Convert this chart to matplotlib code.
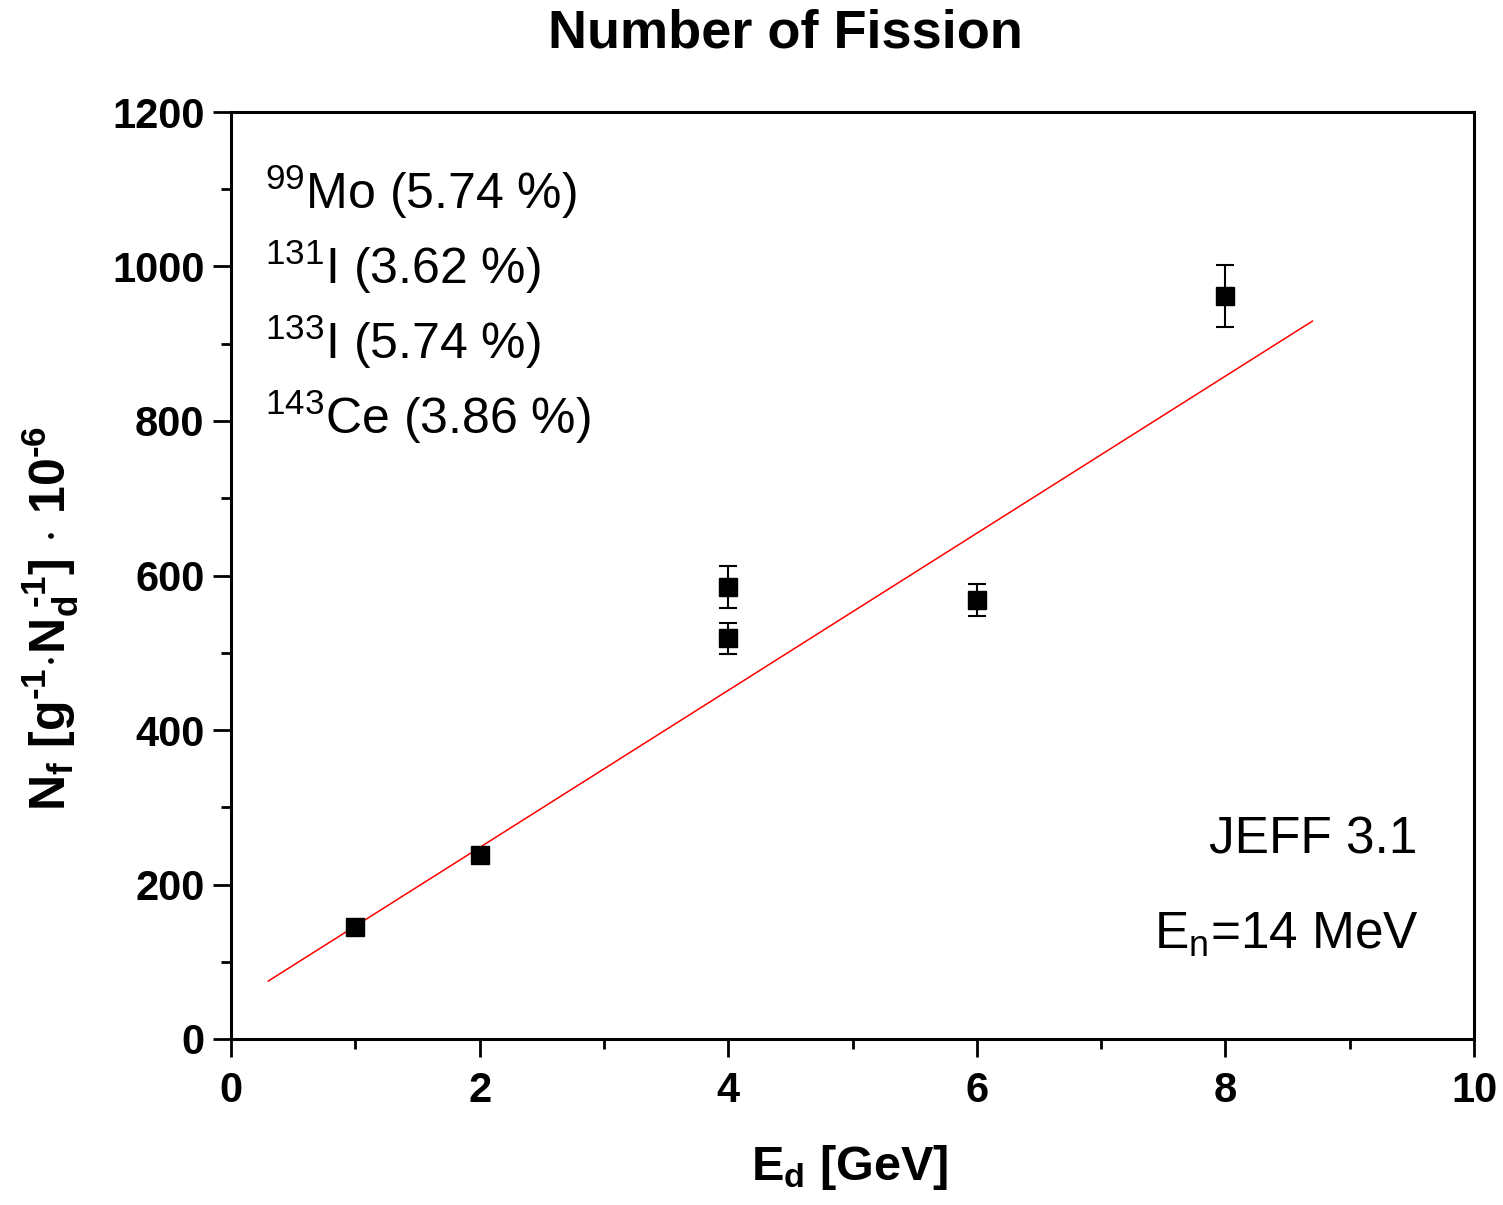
import matplotlib
matplotlib.use("Agg")
import matplotlib.pyplot as plt
import numpy as np

# ---- data ----
energy_gev = [1, 2, 4, 4, 6, 8]
n_fission = [145, 238, 585, 519, 568, 962]
n_fission_err = [7, 7, 27, 20, 21, 40]
fit_slope = 101.7
fit_intercept = 44.5
fit_range = [0.3, 8.7]
x_ticks = [0, 2, 4, 6, 8, 10]
y_ticks = [0, 200, 400, 600, 800, 1000, 1200]
isotope_labels = [r"$^{99}$Mo (5.74 %)", r"$^{131}$I (3.62 %)",
                  r"$^{133}$I (5.74 %)", r"$^{143}$Ce (3.86 %)"]

plt.rcParams['font.family'] = ['Liberation Sans', 'DejaVu Sans']
plt.rcParams['mathtext.fontset'] = 'custom'
plt.rcParams['mathtext.rm'] = 'Liberation Sans'
plt.rcParams['mathtext.it'] = 'Liberation Sans'
plt.rcParams['mathtext.bf'] = 'Liberation Sans:bold'

W, H = 1503, 1205
fig = plt.figure(figsize=(W / 100, H / 100), dpi=100)
ax = fig.add_axes([231 / W, 1 - 1039 / H, (1474 - 231) / W, (1039 - 112) / H])

fx = np.array(fit_range)
ax.plot(fx, fit_intercept + fit_slope * fx, color='red', lw=1.1, zorder=2)
ax.errorbar(energy_gev, n_fission, yerr=n_fission_err, fmt='s', color='black',
            ms=12.5, ecolor='black', elinewidth=1.5, capsize=6.5, capthick=1.5, zorder=3)

ax.set_xlim(0, 10)
ax.set_ylim(0, 1200)
ax.set_xticks(x_ticks)
ax.set_yticks(y_ticks)
ax.set_xticks(np.arange(1, 10, 2), minor=True)
ax.set_yticks(np.arange(100, 1200, 200), minor=True)
ax.tick_params(which='major', direction='out', length=13, width=2, labelsize=30)
ax.tick_params(axis='x', which='major', pad=10)
ax.tick_params(axis='y', which='major', pad=6)
ax.tick_params(which='minor', direction='out', length=7, width=2)
for lbl in ax.get_xticklabels() + ax.get_yticklabels():
    lbl.set_fontweight('bold')
for s in ax.spines.values():
    s.set_linewidth(2.2)

fig.text(785 / W, 1 - 33 / H, "Number of Fission", ha='center', va='center',
         fontsize=39, fontweight='bold')
fig.text(850 / W, 1 - 1168 / H, r"$\mathbf{E_d}$ [GeV]", ha='center', va='center',
         fontsize=35, fontweight='bold')
fig.text(50 / W, 1 - 618 / H,
         "$\\mathbf{N_f\\ [g^{\u20101}{\\cdot}N_d^{\\ \u20101}]\\,\\cdot\\,10^{\u20106}}$",
         ha='center', va='center', rotation=90, fontsize=36, fontweight='bold')

for i, t in enumerate(isotope_labels):
    fig.text(265 / W, 1 - (192 + 75 * i) / H, t, ha='left', va='center', fontsize=36)

fig.text(1417 / W, 1 - 840 / H, "JEFF 3.1", ha='right', va='center', fontsize=37)
fig.text(1419 / W, 1 - 935 / H, r"E$_\mathrm{n}$=14 MeV", ha='right', va='center', fontsize=37)

fig.savefig("out.png", dpi=100)
